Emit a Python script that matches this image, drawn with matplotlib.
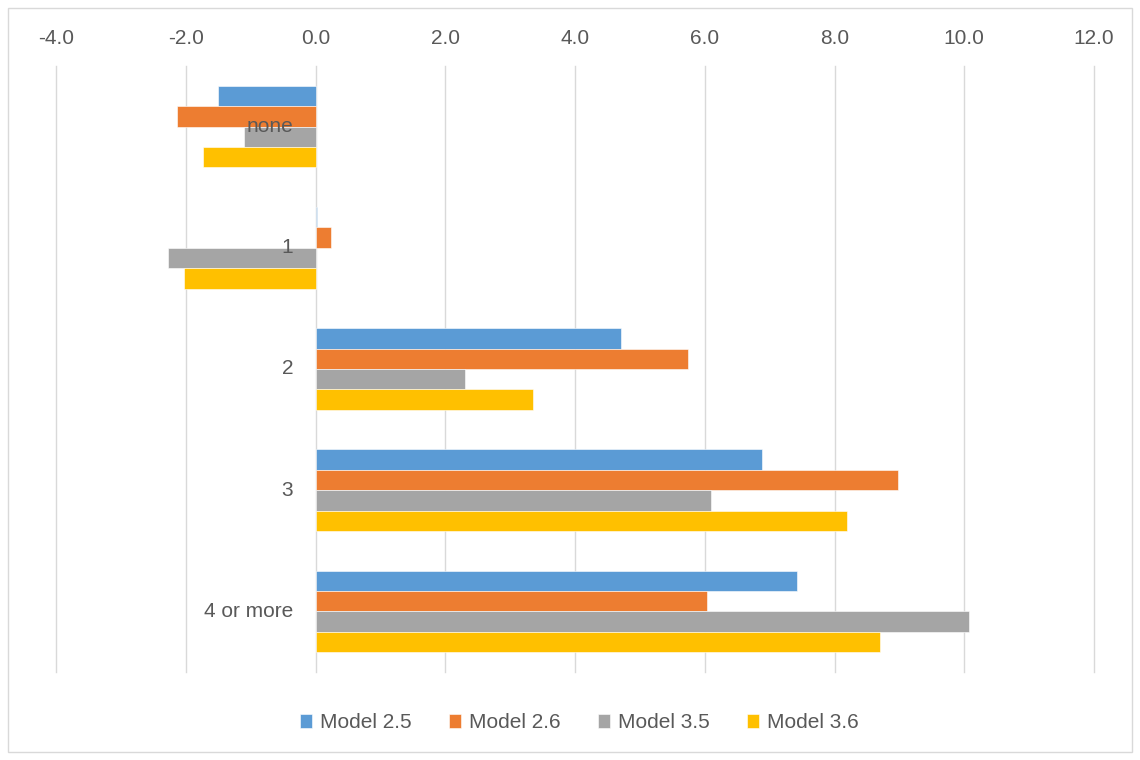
import numpy as np
import matplotlib
matplotlib.use("Agg")
from matplotlib import pyplot as plt
from matplotlib.patches import Rectangle

plt.rcParams['font.family'] = ['Liberation Sans', 'DejaVu Sans']
plt.rcParams['axes.unicode_minus'] = False

categories = ['none', '1', '2', '3', '4 or more']
series = ['Model 2.5', 'Model 2.6', 'Model 3.5', 'Model 3.6']
model_25 = [-1.50, 0.03, 4.71, 6.88, 7.42]
model_26 = [-2.14, 0.24, 5.74, 8.98, 6.04]
model_35 = [-1.10, -2.27, 2.30, 6.09, 10.08]
model_36 = [-1.73, -2.03, 3.35, 8.19, 8.70]
colors = ['#5B9BD5', '#ED7D31', '#A5A5A5', '#FFC000']

fig = plt.figure(figsize=(11.4, 7.6), dpi=100)
ax = fig.add_axes([56 / 1140, 1 - 672 / 760, (1094 - 56) / 1140, (672 - 66) / 760])

y = np.arange(len(categories))
h = 0.168
for i, (vals, name) in enumerate(zip([model_25, model_26, model_35, model_36], series)):
    ax.barh(y + (i - 1.5) * h, vals, height=h, color=colors[i], label=name,
            edgecolor='white', linewidth=0.4, zorder=2)

ax.set_xlim(-4, 12)
ax.set_ylim(len(categories) - 0.5, -0.5)
ax.set_xticks(np.arange(-4, 13, 2))
ax.xaxis.set_major_formatter(matplotlib.ticker.FormatStrFormatter('%.1f'))
ax.xaxis.tick_top()
ax.tick_params(axis='x', length=0, pad=13, labelsize=15, labelcolor='#595959')
ax.set_yticks([])
ax.grid(axis='x', color='#d9d9d9', linewidth=1, zorder=0)
for gl in ax.get_xgridlines():
    gl.set_clip_on(False)
ax.set_axisbelow(True)
for s in ax.spines.values():
    s.set_visible(False)

# category labels sit next to the zero line, over the bars
for yi, cat in zip(y, categories):
    ax.annotate(cat, xy=(0, yi), xytext=(-16, 0), textcoords='offset points',
                ha='right', va='center', fontsize=15, color='#595959', zorder=5)

leg = fig.legend(loc='center', bbox_to_anchor=(0.508, 0.049), ncol=4, frameon=False,
                 fontsize=15, handlelength=0.6, handleheight=0.6, handletextpad=0.35,
                 columnspacing=1.8)
for t in leg.get_texts():
    t.set_color('#595959')

fig.patches.append(Rectangle((8 / 1140, 8 / 760), 1124 / 1140, 744 / 760,
                             transform=fig.transFigure, fill=False,
                             edgecolor='#d9d9d9', linewidth=1))

fig.savefig('out.png', dpi=100)
